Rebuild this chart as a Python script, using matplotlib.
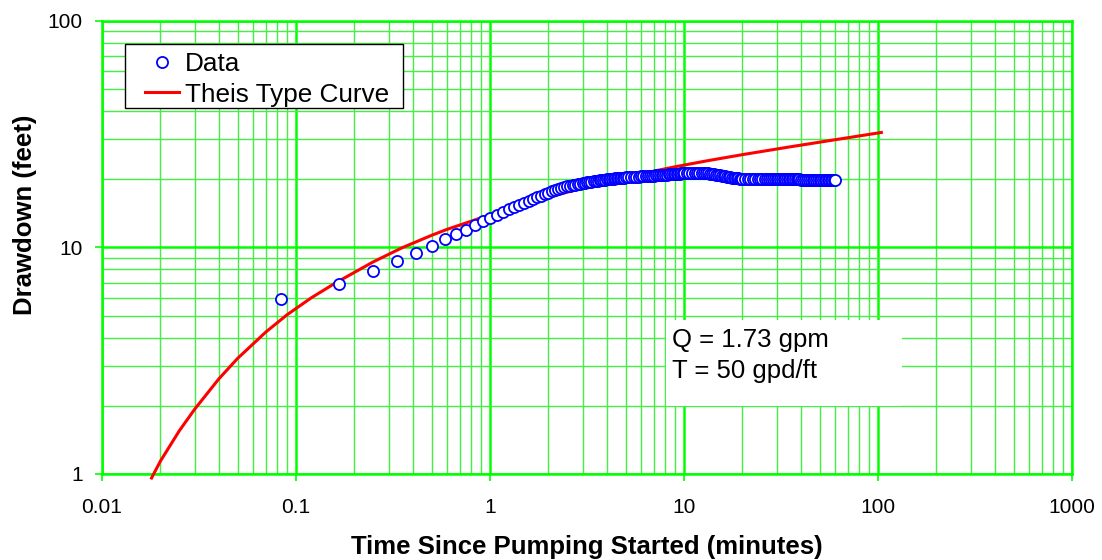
import numpy as np
import matplotlib
matplotlib.use("Agg")
import matplotlib.pyplot as plt
from matplotlib.ticker import LogLocator, FuncFormatter, NullFormatter
from matplotlib.patches import Rectangle

plt.rcParams['font.family'] = ['Liberation Sans', 'DejaVu Sans']

# pumping test data: time since pumping started (seconds) and drawdown (feet)
time_sec = [
    5, 10, 15, 20, 25, 30, 35, 40, 45, 50,
    55, 60, 65, 70, 75, 80, 85, 90, 95, 100,
    105, 110, 115, 120, 125, 130, 135, 140, 145, 150,
    155, 160, 165, 170, 175, 180, 185, 190, 195, 200,
    205, 210, 215, 220, 225, 230, 235, 240, 245, 250,
    255, 260, 265, 270, 275, 280, 285, 290, 295, 300,
    310, 320, 330, 340, 350, 360, 370, 380, 390, 400,
    410, 420, 430, 440, 450, 460, 470, 480, 490, 500,
    510, 520, 530, 540, 550, 560, 570, 580, 590, 600,
    620, 640, 660, 680, 700, 720, 740, 760, 780, 800,
    820, 840, 860, 880, 900, 920, 940, 960, 980, 1000,
    1020, 1040, 1060, 1080, 1100, 1120, 1140, 1160, 1180, 1200,
    1240, 1280, 1320, 1360, 1400, 1440, 1480, 1520, 1560, 1600,
    1640, 1680, 1720, 1760, 1800, 1840, 1880, 1920, 1960, 2000,
    2040, 2080, 2120, 2160, 2200, 2240, 2280, 2320, 2360, 2400,
    2460, 2520, 2580, 2640, 2700, 2760, 2820, 2880, 2940, 3000,
    3060, 3120, 3180, 3240, 3300, 3360, 3420, 3480, 3540, 3600,
]
drawdown = [
    5.92, 6.90, 7.88, 8.72, 9.43, 10.19, 10.87, 11.44, 11.95, 12.53,
    13.05, 13.49, 13.90, 14.30, 14.72, 15.05, 15.40, 15.75, 16.08, 16.38,
    16.65, 16.92, 17.18, 17.45, 17.68, 17.90, 18.10, 18.28, 18.45, 18.60,
    18.72, 18.84, 18.95, 19.05, 19.15, 19.24, 19.32, 19.40, 19.47, 19.54,
    19.60, 19.66, 19.72, 19.78, 19.83, 19.88, 19.93, 19.98, 20.02, 20.06,
    20.10, 20.14, 20.18, 20.21, 20.24, 20.27, 20.30, 20.33, 20.36, 20.38,
    20.42, 20.46, 20.50, 20.54, 20.57, 20.60, 20.63, 20.66, 20.69, 20.72,
    20.75, 20.78, 20.81, 20.84, 20.87, 20.90, 20.93, 20.96, 20.99, 21.02,
    21.05, 21.08, 21.11, 21.14, 21.16, 21.18, 21.20, 21.22, 21.24, 21.26,
    21.28, 21.30, 21.31, 21.32, 21.33, 21.33, 21.32, 21.30, 21.27, 21.23,
    21.18, 21.12, 21.05, 20.97, 20.89, 20.81, 20.73, 20.65, 20.58, 20.51,
    20.45, 20.39, 20.34, 20.29, 20.25, 20.21, 20.18, 20.15, 20.13, 20.11,
    20.09, 20.08, 20.07, 20.07, 20.07, 20.08, 20.09, 20.10, 20.11, 20.12,
    20.12, 20.12, 20.12, 20.11, 20.10, 20.09, 20.08, 20.07, 20.06, 20.05,
    20.04, 20.03, 20.02, 20.01, 20.00, 19.99, 19.98, 19.98, 19.97, 19.96,
    19.95, 19.95, 19.94, 19.93, 19.93, 19.92, 19.91, 19.91, 19.90, 19.90,
    19.89, 19.89, 19.88, 19.88, 19.87, 19.87, 19.86, 19.86, 19.85, 19.85,
]

# Theis type curve (minutes, feet)
theis_t = [0.018, 0.02, 0.025, 0.03, 0.04, 0.05, 0.07, 0.09, 0.12, 0.16, 0.25,
           0.35, 0.5, 0.6, 0.87, 1.0, 1.5, 2.0, 3.0, 5.0, 7.0, 9.0, 13.0, 20.0,
           35.0, 60.0, 104.0]
theis_s = [0.96, 1.14, 1.55, 1.93, 2.63, 3.24, 4.24, 5.05, 6.0, 6.98, 8.64,
           9.95, 11.32, 12.02, 13.39, 13.92, 15.5, 16.65, 18.32, 20.39, 21.74, 22.72, 24.1, 25.7,
           27.8, 29.9, 32.2]

note_lines = ['Q = 1.73 gpm', 'T = 50 gpd/ft']

green = '#00FF00'

fig = plt.figure(figsize=(11.02, 5.6), dpi=100)
ax = fig.add_axes([0.0926, 0.1536, 0.8802, 0.8089])

time_min = np.array(time_sec) / 60.0
ax.plot(theis_t, theis_s, color='#FF0000', lw=2.2, zorder=3, clip_on=False,
        label='Theis Type Curve')
ax.plot(time_min, drawdown, 'o', ms=8, mfc='white', mec='#0000FF', mew=1.3,
        zorder=4, label='Data')

ax.set_xscale('log')
ax.set_yscale('log')
ax.set_xlim(0.01, 1000)
ax.set_ylim(1, 100)

fmt = FuncFormatter(lambda v, p: f'{v:g}')
for axis in (ax.xaxis, ax.yaxis):
    axis.set_major_locator(LogLocator(base=10))
    axis.set_minor_locator(LogLocator(base=10, subs=np.arange(2, 10)))
    axis.set_major_formatter(fmt)
    axis.set_minor_formatter(NullFormatter())

ax.grid(which='major', color=green, lw=1.8, zorder=0)
ax.grid(which='minor', color='#44EE44', lw=1.0, zorder=0)
ax.set_axisbelow(True)

for sp in ax.spines.values():
    sp.set_color(green)
    sp.set_linewidth(1.8)

ax.tick_params(which='major', length=5, width=1.2, color=green, labelsize=15)
ax.tick_params(which='minor', length=0)
ax.tick_params(axis='y', pad=9)
ax.tick_params(axis='x', pad=12)

ax.set_xlabel('Time Since Pumping Started (minutes)', fontsize=18.5, fontweight='bold')
ax.set_ylabel('Drawdown (feet)', fontsize=18.5, fontweight='bold')
ax.xaxis.set_label_coords(0.5, -0.135)
ax.yaxis.set_label_coords(-0.067, 0.572)

# white box behind the parameter note
ax.add_patch(Rectangle((0.5814, 0.150), 0.2433, 0.19, transform=ax.transAxes,
                       facecolor='white', edgecolor='none', zorder=2))
ax.text(0.5876, 0.2804, note_lines[0], transform=ax.transAxes, fontsize=18.5,
        va='baseline', ha='left', zorder=5)
ax.text(0.5876, 0.212, note_lines[1], transform=ax.transAxes, fontsize=18.5,
        va='baseline', ha='left', zorder=5)

# legend frame drawn separately so the padding matches the original
ax.add_patch(Rectangle((0.0237, 0.808), 0.2866, 0.1412, transform=ax.transAxes,
                       facecolor='white', edgecolor='black', lw=1.0, zorder=9))
handles, labels = ax.get_legend_handles_labels()
leg = ax.legend(handles[::-1], labels[::-1], loc='upper left',
                bbox_to_anchor=(0.0443, 0.931), borderaxespad=0, fontsize=18.8,
                frameon=False, handlelength=1.3, handletextpad=0.23,
                borderpad=0.0, labelspacing=0.24, numpoints=1)
leg.set_zorder(10)

fig.savefig('out.png', dpi=100)
